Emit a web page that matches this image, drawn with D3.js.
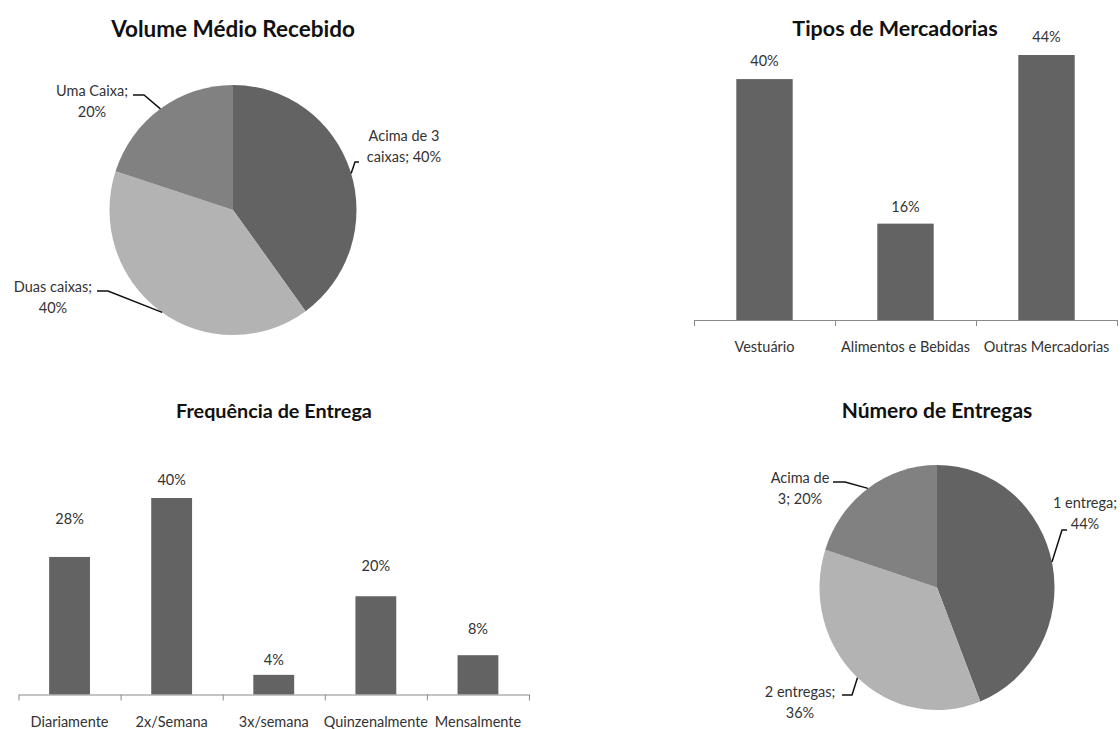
<!DOCTYPE html>
<html>
<head>
<meta charset="utf-8">
<script src="https://cdn.jsdelivr.net/npm/d3@7"></script>
<style>
  body { margin: 0; background: #fff; }
  svg { display: block; font-family: Lato, "Open Sans", sans-serif; }
</style>
</head>
<body>
<svg id="chart" width="1120" height="729"></svg>
<script>
"use strict";

// data
var volumeCats = ["Acima de 3 caixas", "Duas caixas", "Uma Caixa"];
var volumeVals = [40, 40, 20];

var tiposCats = ["Vestuário", "Alimentos e Bebidas", "Outras Mercadorias"];
var tiposVals = [40, 16, 44];

var freqCats = ["Diariamente", "2x/Semana", "3x/semana", "Quinzenalmente", "Mensalmente"];
var freqVals = [28, 40, 4, 20, 8];

var entregasCats = ["1 entrega", "2 entregas", "Acima de 3"];
var entregasVals = [44, 36, 20];

var sliceColors = ["#636363", "#b3b3b3", "#818181"];
var barColor = "#636363";
var textColor = "#333";
var labelSize = "14.5px";

var svg = d3.select("#chart");

function title(txt, x, y, size) {
  svg.append("text")
    .attr("x", x).attr("y", y)
    .attr("text-anchor", "middle")
    .style("font-weight", "bold")
    .style("font-size", size + "px")
    .style("fill", "#111")
    .text(txt);
}

function drawBars(cats, vals, o) {
  var g = svg.append("g");
  var x = d3.scaleBand().domain(cats).range([o.x0, o.x1]).paddingInner(0.6).paddingOuter(0.3);
  var y = d3.scaleLinear().domain([0, o.max]).range([o.base, o.top]);

  g.selectAll("rect.bar").data(vals).enter().append("rect")
    .attr("class", "bar")
    .attr("x", function(d, i) { return x(cats[i]); })
    .attr("y", function(d) { return y(d); })
    .attr("width", x.bandwidth())
    .attr("height", function(d) { return o.base - y(d); })
    .attr("fill", barColor);

  g.selectAll("text.val").data(vals).enter().append("text")
    .attr("class", "val")
    .attr("x", function(d, i) { return x(cats[i]) + x.bandwidth() / 2; })
    .attr("y", function(d, i) { return y(d) - o.lift[i] + 5; })
    .attr("text-anchor", "middle")
    .style("font-size", labelSize)
    .style("fill", textColor)
    .text(function(d) { return d + "%"; });

  // axis line with ticks between categories
  var edge = d3.scaleLinear().domain([0, cats.length]).range([o.x0, o.x1]);
  var ax = g.append("g").attr("transform", "translate(0," + o.base + ")")
    .call(d3.axisBottom(edge).tickValues(d3.range(cats.length + 1)).tickFormat("").tickSize(6).tickSizeOuter(0));
  ax.selectAll("path, line").attr("stroke", "#8a8a8a");

  var lab = g.append("g").attr("transform", "translate(0," + o.base + ")")
    .call(d3.axisBottom(x).tickSize(0).tickPadding(o.labelPad));
  lab.select(".domain").remove();
  lab.selectAll("text")
    .style("font-size", labelSize)
    .style("font-family", "Lato, 'Open Sans', sans-serif")
    .style("fill", textColor);
}

function drawPie(cats, vals, o) {
  var g = svg.append("g")
    .attr("transform", "translate(" + o.cx + "," + o.cy + ") scale(1," + (o.ry / o.rx) + ")");
  var pie = d3.pie().sort(null).value(function(d) { return d; });
  var arc = d3.arc().innerRadius(0).outerRadius(o.rx);
  g.selectAll("path").data(pie(vals)).enter().append("path")
    .attr("d", arc)
    .attr("fill", function(d, i) { return sliceColors[i]; });

  cats.forEach(function(c, i) {
    var L = o.labels[i];
    var words = (c + "; " + vals[i] + "%").split(" ");
    var lines = [words.slice(0, L.brk).join(" "), words.slice(L.brk).join(" ")];
    var t = svg.append("text")
      .attr("text-anchor", "middle")
      .style("font-size", labelSize)
      .style("fill", textColor);
    lines.forEach(function(s, k) {
      t.append("tspan").attr("x", L.x).attr("y", L.y + k * 21).text(s);
    });
    // leader line from label to slice edge
    var a = L.ang * Math.PI / 180;
    var ex = o.cx + o.rx * Math.sin(a), ey = o.cy - o.ry * Math.cos(a);
    svg.append("polyline")
      .attr("points", [[L.end[0], L.end[1]], [L.elbow[0], L.elbow[1]], [ex, ey]].join(" "))
      .attr("fill", "none")
      .attr("stroke", "#111")
      .attr("stroke-width", 1.5);
  });
}

title("Volume Médio Recebido", 233, 37, 22.5);
drawPie(volumeCats, volumeVals, {
  cx: 233, cy: 210, rx: 123.5, ry: 125,
  labels: [
    { brk: 3, x: 404, y: 141, ang: 73, elbow: [355, 162], end: [359, 162] },
    { brk: 2, x: 53, y: 292, ang: 215, elbow: [108, 291], end: [97, 291] },
    { brk: 2, x: 92, y: 96, ang: 324, elbow: [144, 95], end: [133, 95] }
  ]
});

title("Tipos de Mercadorias", 895, 36, 21.5);
drawBars(tiposCats, tiposVals, { x0: 694, x1: 1117, base: 320, top: 55, max: 44, lift: [18, 17, 18], labelPad: 22 });

title("Frequência de Entrega", 274, 418, 19.8);
drawBars(freqCats, freqVals, { x0: 18.5, x1: 529, base: 694.5, top: 498, max: 40, lift: [38, 18, 15, 30, 26], labelPad: 22 });

title("Número de Entregas", 937, 418, 21);
drawPie(entregasCats, entregasVals, {
  cx: 937, cy: 587.5, rx: 117.5, ry: 122.5,
  labels: [
    { brk: 2, x: 1085, y: 508, ang: 78, elbow: [1062, 530], end: [1067, 530] },
    { brk: 2, x: 800, y: 697, ang: 222.6, elbow: [852, 695], end: [842, 695] },
    { brk: 2, x: 800, y: 483, ang: 324, elbow: [845, 482], end: [833, 482] }
  ]
});
</script>
</body>
</html>
